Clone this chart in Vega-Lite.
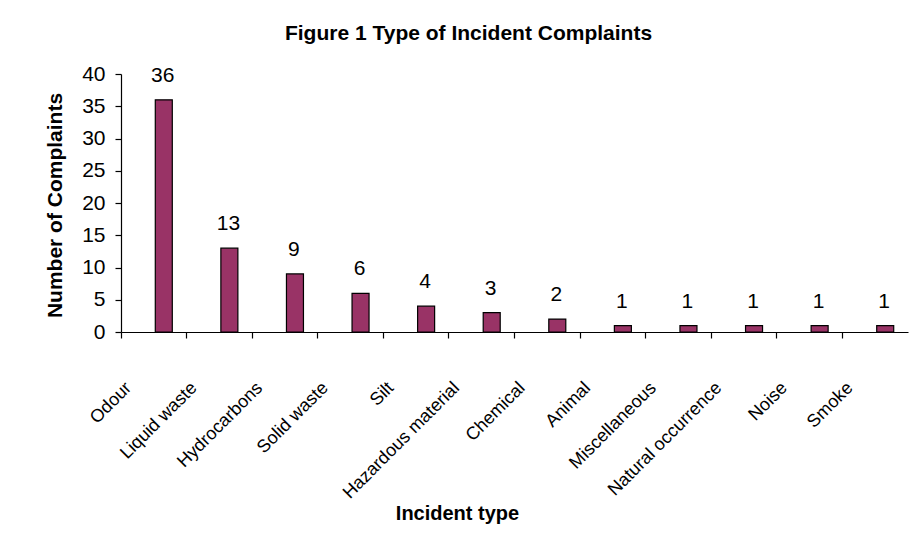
{
  "$schema": "https://vega.github.io/schema/vega-lite/v6.json",
  "width": 787,
  "height": 258,
  "autosize": {"type": "none"},
  "padding": {"left": 121, "top": 74, "right": 9, "bottom": 217},
  "background": "white",
  "config": {"view": {"stroke": null}, "font": "Liberation Sans"},
  "title": {
    "text": "Figure 1 Type of Incident Complaints",
    "font": "Liberation Sans",
    "fontSize": 21,
    "fontWeight": "bold",
    "color": "black",
    "anchor": "middle",
    "dx": -46,
    "baseline": "alphabetic",
    "offset": 2
  },
  "data": {
    "values": [
      {"type": "Odour", "count": 36},
      {"type": "Liquid waste", "count": 13},
      {"type": "Hydrocarbons", "count": 9},
      {"type": "Solid waste", "count": 6},
      {"type": "Silt", "count": 4},
      {"type": "Hazardous material", "count": 3},
      {"type": "Chemical", "count": 2},
      {"type": "Animal", "count": 1},
      {"type": "Miscellaneous", "count": 1},
      {"type": "Natural occurrence", "count": 1},
      {"type": "Noise", "count": 1},
      {"type": "Smoke", "count": 1}
    ]
  },
  "encoding": {
    "x": {
      "field": "type",
      "type": "nominal",
      "sort": null,
      "scale": {"paddingInner": 0, "paddingOuter": 0},
      "axis": {
        "title": "Incident type",
        "titleFont": "Liberation Sans",
        "titleFontSize": 20,
        "titleFontWeight": "bold",
        "titleColor": "black",
        "titleX": 336,
        "titleY": 187,
        "titleBaseline": "alphabetic",
        "titleAlign": "center",
        "bandPosition": 0,
        "labelAngle": -45,
        "labelAlign": "right",
        "labelBaseline": "middle",
        "labelOffset": -25,
        "labelFont": "Liberation Sans",
        "labelFontSize": 18,
        "labelColor": "black",
        "labelPadding": 47,
        "labelOverlap": false,
        "labelLimit": 300,
        "tickSize": 6,
        "tickColor": "black",
        "tickWidth": 1.2,
        "domainColor": "black",
        "domainWidth": 1.2,
        "grid": false
      }
    },
    "y": {
      "field": "count",
      "type": "quantitative",
      "scale": {"domain": [0, 40], "nice": false},
      "axis": {
        "title": "Number of Complaints",
        "titleFont": "Liberation Sans",
        "titleFontSize": 21,
        "titleFontWeight": "bold",
        "titleColor": "black",
        "titleX": -66,
        "titleY": 131,
        "titleAngle": -90,
        "titleBaseline": "middle",
        "titleAlign": "center",
        "values": [0, 5, 10, 15, 20, 25, 30, 35, 40],
        "labelFont": "Liberation Sans",
        "labelFontSize": 21,
        "labelColor": "black",
        "labelPadding": 10,
        "tickSize": 6,
        "tickColor": "black",
        "tickWidth": 1.2,
        "domainColor": "black",
        "domainWidth": 1.2,
        "grid": false
      }
    }
  },
  "layer": [
    {
      "mark": {"type": "bar", "width": 17, "xOffset": 10, "fill": "#993366", "stroke": "black", "strokeWidth": 1.2}
    },
    {
      "mark": {"type": "text", "xOffset": 9, "dy": -18, "baseline": "alphabetic", "font": "Liberation Sans", "fontSize": 21, "color": "black"},
      "encoding": {"text": {"field": "count", "type": "quantitative"}}
    }
  ]
}
